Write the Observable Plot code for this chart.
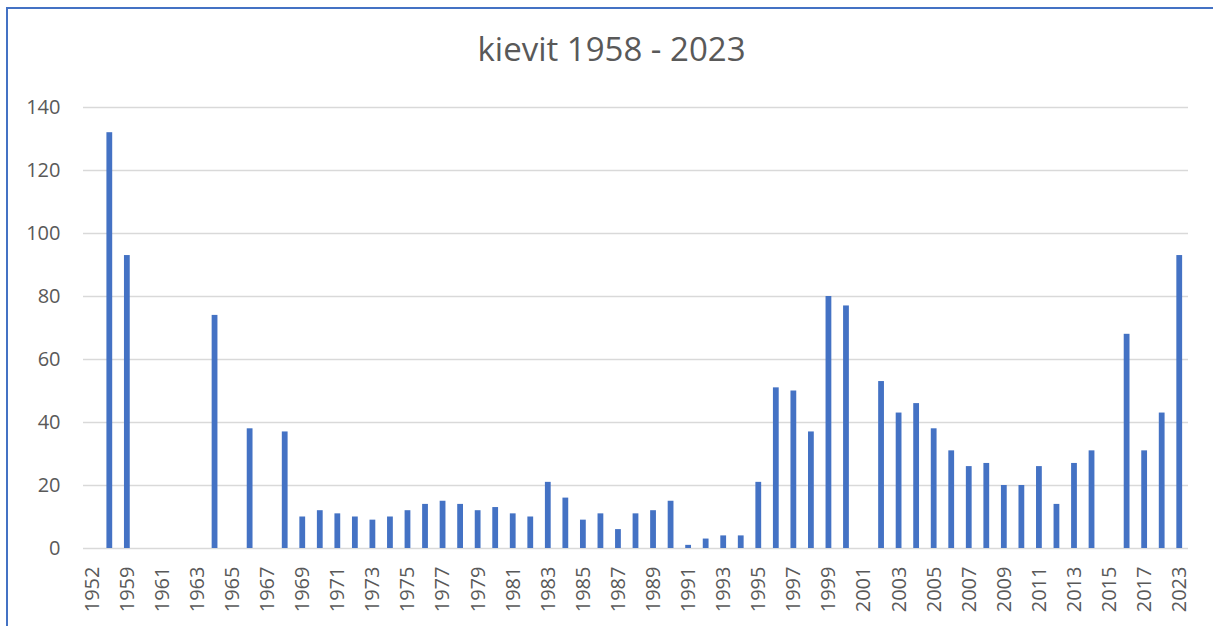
<!DOCTYPE html>
<html>
<head>
<meta charset="utf-8">
<script src="https://cdn.jsdelivr.net/npm/d3@7"></script>
<script src="https://cdn.jsdelivr.net/npm/@observablehq/plot@0.6"></script>
<style>
  html, body { margin: 0; padding: 0; background: #fff; width: 1213px; height: 626px; overflow: hidden; }
  #frame { position: absolute; left: 6px; top: 7px; width: 1300px; height: 700px; border-left: 2px solid #4472C4; border-top: 2px solid #4472C4; }
  #title { position: absolute; left: 10px; width: 1203px; top: 32px; text-align: center; font-family: "Open Sans", sans-serif; font-size: 33px; line-height: 34px; color: #595959; }
  #chart { position: absolute; left: 0; top: 0; }
</style>
</head>
<body>
<div id="frame"></div>
<div id="title">kievit 1958 - 2023</div>
<div id="chart"></div>
<script>
const years = ["1952","1958","1959","1960","1961","1962","1963","1964","1965","1966","1967","1968",
  "1969","1970","1971","1972","1973","1974","1975","1976","1977","1978","1979","1980","1981","1982",
  "1983","1984","1985","1986","1987","1988","1989","1990","1991","1992","1993","1994","1995","1996",
  "1997","1998","1999","2000","2001","2002","2003","2004","2005","2006","2007","2008","2009","2010",
  "2011","2012","2013","2014","2015","2016","2017","2022","2023"];
const counts = [null,132,93,null,null,null,null,74,null,38,null,37,
  10,12,11,10,9,10,12,14,15,14,12,13,11,10,
  21,16,9,11,6,11,12,15,1,3,4,4,21,51,
  50,37,80,77,null,53,43,46,38,31,26,27,20,20,
  26,14,27,31,null,68,31,43,93];
const xTickLabels = ["1952","1959","1961","1963","1965","1967","1969","1971","1973","1975","1977","1979",
  "1981","1983","1985","1987","1989","1991","1993","1995","1997","1999","2001","2003","2005","2007",
  "2009","2011","2013","2015","2017","2023"];
const yTicks = [0,20,40,60,80,100,120,140];

const data = years.map((y, i) => ({year: y, value: counts[i]}));

const chart = Plot.plot({
  width: 1213,
  height: 626,
  marginLeft: 83,
  marginRight: 25,
  marginTop: 107,
  marginBottom: 78,
  style: {fontFamily: "'Open Sans', sans-serif", fontSize: "20px", color: "#595959", background: "transparent", overflow: "visible"},
  x: {domain: years, paddingInner: 0.67, paddingOuter: 0.335, label: null},
  y: {domain: [0, 140], label: null},
  marks: [
    Plot.gridY(yTicks, {stroke: "#d9d9d9", strokeOpacity: 1, strokeWidth: 1.4}),
    Plot.barY(data.filter(d => d.value != null), {x: "year", y: "value", fill: "#4472C4"}),
    Plot.axisY(yTicks, {tickSize: 0, tickPadding: 23, fill: "#595959", fontSize: 20, label: null}),
    Plot.axisX(xTickLabels, {tickSize: 0, tickPadding: 18, tickRotate: -90, fill: "#595959", fontSize: 20, label: null})
  ]
});
document.getElementById("chart").appendChild(chart);
</script>
</body>
</html>
